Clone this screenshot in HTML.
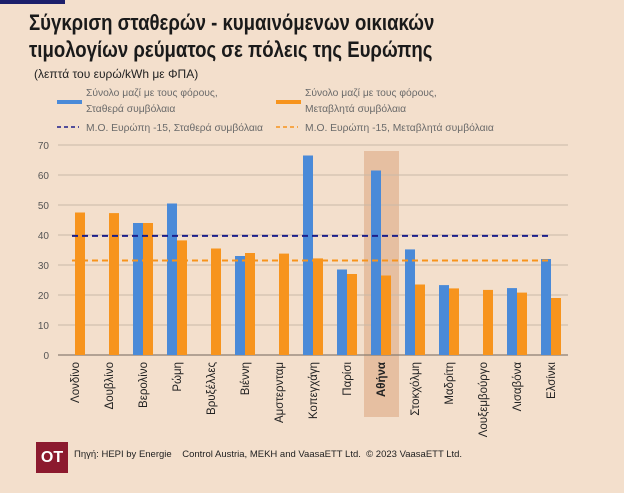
<!DOCTYPE html>
<html><head><meta charset="utf-8"><style>
body{margin:0;background:#f3dfcc;font-family:"Liberation Sans","DejaVu Sans",sans-serif;}
#wrap{position:relative;width:624px;height:493px;overflow:hidden;background:#f3dfcc;}
.t{position:absolute;white-space:nowrap;}
</style></head><body>
<div id="wrap">
<div class="t" style="left:0;top:0;width:65px;height:4px;background:#1c1f6b"></div>
<div class="t" style="left:29px;top:9px;font-size:22px;font-weight:bold;color:#1a1a1a;line-height:27px;transform:scaleX(0.845);transform-origin:0 0;">Σύγκριση σταθερών - κυμαινόμενων οικιακών<br>τιμολογίων ρεύματος σε πόλεις της Ευρώπης</div>
<div class="t" style="left:34px;top:67px;font-size:12px;color:#222;">(λεπτά του ευρώ/kWh με ΦΠΑ)</div>
<svg id="chart" width="624" height="493" style="position:absolute;left:0;top:0"></svg>
<div class="t" style="left:36px;top:442px;width:32px;height:31px;background:#8c1a2e;color:#fff;font-weight:bold;font-size:16px;line-height:31px;text-align:center;">OT</div>
<div class="t" style="left:74px;top:449px;font-size:9.5px;color:#222;">Πηγή: HEPI by Energie &nbsp;&nbsp;&nbsp;Control Austria, MEKH and VaasaETT Ltd. &nbsp;© 2023 VaasaETT Ltd.</div>
</div>
<script>
const categories=["Λονδίνο","Δουβλίνο","Βερολίνο","Ρώμη","Βρυξέλλες","Βιέννη","Αμστερνταμ","Κοπεγχάγη","Παρίσι","Αθήνα","Στοκχόλμη","Μαδρίτη","Λουξεμβούργο","Λισαβόνα","Ελσίνκι"];
const fixedValues=[null,null,44,50.5,null,33,null,66.5,28.5,61.5,35.2,23.3,null,22.3,32];
const variableValues=[47.5,47.3,44,38.2,35.5,34,33.8,32.2,27,26.5,23.5,22.2,21.7,20.8,19];
const avgFixed=[39.7];
const avgVariable=[31.5];
const yTicks=[0,10,20,30,40,50,60,70];
const legendLabels=["Σύνολο μαζί με τους φόρους,|Σταθερά συμβόλαια","Σύνολο μαζί με τους φόρους,|Μεταβλητά συμβόλαια","Μ.Ο. Ευρώπη -15, Σταθερά συμβόλαια","Μ.Ο. Ευρώπη -15, Μεταβλητά συμβόλαια"];
const highlight="Αθήνα";

const NS="http://www.w3.org/2000/svg";
const svg=document.getElementById('chart');
const x0=58,x1=568,yBase=355,yTop=145,yMax=70;
const band=(x1-x0)/categories.length;
const y=v=>yBase-(v/yMax)*(yBase-yTop);
const xc=i=>x0+band*(i+0.5);
function mk(tag,attrs){const e=document.createElementNS(NS,tag);for(const k in attrs)e.setAttribute(k,attrs[k]);svg.appendChild(e);return e;}

const hi=categories.indexOf(highlight);
if(hi>=0){const h=mk('rect',{x:xc(hi)-17,y:151,width:35,height:266,fill:'#e2b696',opacity:0.8});

}

yTicks.forEach(t=>{
 const l=mk('line',{x1:x0,x2:x1,y1:y(t),y2:y(t),stroke:t===0?'#8a7d72':'#c9b8a8','stroke-width':t===0?1.3:1});
 
 
 const tx=mk('text',{x:49,y:y(t)+4,'text-anchor':'end','font-size':'10','fill':'#555','font-family':'Liberation Sans, sans-serif'});
 tx.textContent=t;
 
 
});

const bw=10;
categories.forEach((c,i)=>{
 const cx=xc(i);
 if(fixedValues[i]!=null){const r=mk('rect',{x:cx-bw,y:y(fixedValues[i]),width:bw,height:yBase-y(fixedValues[i]),fill:'#4a8ad8'});
  
  }
 if(variableValues[i]!=null){const r=mk('rect',{x:cx,y:y(variableValues[i]),width:bw,height:yBase-y(variableValues[i]),fill:'#f7941d'});
  
  }
 const t=mk('text',{transform:`translate(${cx+4},362) rotate(-90)`,'text-anchor':'end','font-size':'11.5','fill':'#222','font-weight':c===highlight?'bold':'normal','font-family':'Liberation Sans, DejaVu Sans, sans-serif'});
 t.textContent=c;
 
 
});

const a1=mk('line',{x1:xc(0)-3,x2:xc(14),y1:y(avgFixed[0]),y2:y(avgFixed[0]),stroke:'#1c1f8a','stroke-width':2,'stroke-dasharray':'6,4'});


const a2=mk('line',{x1:xc(0)-3,x2:xc(14),y1:y(avgVariable[0]),y2:y(avgVariable[0]),stroke:'#f7941d','stroke-width':2,'stroke-dasharray':'6,4'});



const lg=[{x:57,sw:'rect',col:'#4a8ad8',ty:96},{x:276,sw:'rect',col:'#f7941d',ty:96},{x:57,sw:'dash',col:'#1c1f8a',ty:131},{x:276,sw:'dash',col:'#f7941d',ty:131}];
lg.forEach((g,i)=>{
 let s;
 if(g.sw==='rect'){s=mk('rect',{x:g.x,y:100,width:25,height:4,fill:g.col});}
 else{s=mk('line',{x1:g.x,x2:g.x+22,y1:127,y2:127,stroke:g.col,'stroke-width':1.5,'stroke-dasharray':'4,3'});}
 
 
 const lines=legendLabels[i].split('|');
 lines.forEach((ln,k)=>{
  const t=mk('text',{x:g.x+29,y:g.ty+k*16,'font-size':'10.3','fill':'#6a6a6a','font-family':'Liberation Sans, DejaVu Sans, sans-serif'});
  t.textContent=ln;
  
  
 });
});
</script>
</body></html>
